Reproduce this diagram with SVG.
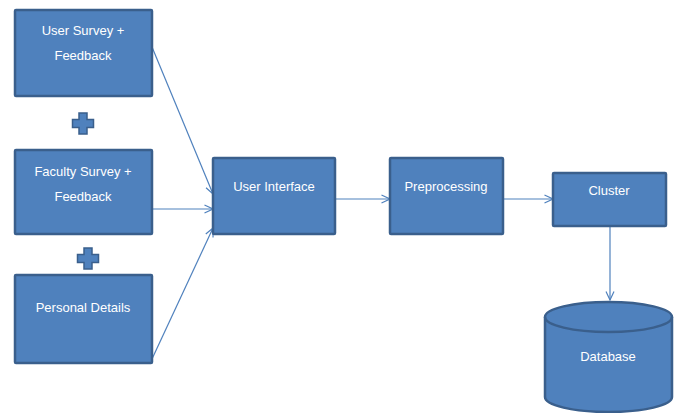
<svg xmlns="http://www.w3.org/2000/svg" width="679" height="413" viewBox="0 0 679 413">
<style>
.box{fill:#4F81BD;stroke:#3A5F8C;stroke-width:2.5}
.t{font-family:"Liberation Sans",Arial,sans-serif;font-size:13px;fill:#FFFFFF;text-anchor:middle}
.c{stroke:#4F81BD;stroke-width:1.2;fill:none;marker-end:url(#ah)}
.plus{fill:#4F81BD;stroke:#3A5F8C;stroke-width:1.5}
</style>
<defs>
<marker id="ah" viewBox="0 0 10 10" refX="9.5" refY="5" markerWidth="10" markerHeight="10" markerUnits="userSpaceOnUse" orient="auto">
<path d="M1,1 L9.5,5 L1,9" fill="none" stroke="#4F81BD" stroke-width="1.2"/>
</marker>
</defs>
<rect width="679" height="413" fill="#FFFFFF"/>
<g id="connectors">
<line class="c" x1="152" y1="47" x2="213" y2="194"/>
<line class="c" x1="152" y1="209" x2="213" y2="209"/>
<line class="c" x1="152" y1="359" x2="213" y2="228"/>
<line class="c" x1="335" y1="199" x2="390" y2="199"/>
<line class="c" x1="503" y1="199" x2="553" y2="199"/>
<line class="c" x1="610" y1="227" x2="610" y2="300"/>
</g>
<g id="user-survey">
<rect class="box" x="15" y="10" width="137" height="86" rx="1"/>
<text class="t" x="83" y="35">User Survey +</text>
<text class="t" x="83" y="60">Feedback</text>
</g>
<g id="plus1">
<path class="plus" d="M79,113 h8 v6.5 h6.5 v8 h-6.5 v6.5 h-8 v-6.5 h-6.5 v-8 h6.5 z"/>
</g>
<g id="faculty-survey">
<rect class="box" x="15" y="150" width="137" height="84" rx="1"/>
<text class="t" x="83" y="176">Faculty Survey +</text>
<text class="t" x="83" y="201">Feedback</text>
</g>
<g id="plus2">
<path class="plus" d="M84,248 h8 v6.5 h6.5 v8 h-6.5 v6.5 h-8 v-6.5 h-6.5 v-8 h6.5 z"/>
</g>
<g id="personal-details">
<rect class="box" x="15" y="275" width="137" height="88" rx="1"/>
<text class="t" x="83" y="312">Personal Details</text>
</g>
<g id="user-interface">
<rect class="box" x="213" y="158" width="122" height="76" rx="1"/>
<text class="t" x="274" y="191">User Interface</text>
</g>
<g id="preprocessing">
<rect class="box" x="390" y="158" width="113" height="76" rx="1"/>
<text class="t" x="446" y="191">Preprocessing</text>
</g>
<g id="cluster">
<rect class="box" x="553" y="173" width="113" height="53" rx="1"/>
<text class="t" x="609" y="195">Cluster</text>
</g>
<g id="database">
<path class="box" d="M545,317 A63.5,15 0 0 1 672,317 V397 A63.5,15 0 0 1 545,397 Z"/>
<path d="M545,317 A63.5,15 0 0 0 672,317" fill="none" stroke="#3A5F8C" stroke-width="2.5"/>
<text class="t" x="608" y="361">Database</text>
</g>
</svg>
